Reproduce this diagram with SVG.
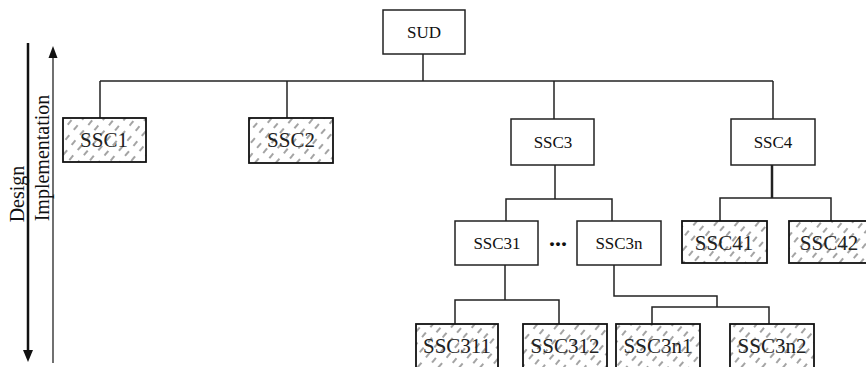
<svg xmlns="http://www.w3.org/2000/svg" width="866" height="367" viewBox="0 0 866 367">
<style>
.box{fill:#fff;stroke:#222;stroke-width:1.5}
.hbox{fill:url(#hatch);stroke:#111;stroke-width:1.8}
.lbl{font-family:"Liberation Serif","Times New Roman",serif;font-size:17px;fill:#111;text-anchor:middle}
.hlbl{font-family:"Liberation Serif","Times New Roman",serif;font-size:21px;fill:#222;text-anchor:middle}
.ax{font-family:"Liberation Serif","Times New Roman",serif;font-size:20px;fill:#111;text-anchor:middle}
#connectors line,#connectors polyline{stroke:#222;stroke-width:1.5;fill:none}
</style>
<defs>
<pattern id="hatch" patternUnits="userSpaceOnUse" width="13" height="8" patternTransform="rotate(-50)">
<rect width="13" height="8" fill="#fff"/>
<line x1="0" y1="4" x2="6" y2="4" stroke="#333" stroke-width="0.9"/>
</pattern>
</defs>
<rect width="866" height="367" fill="#fff"/>
<g id="axes">
<line x1="28" y1="43" x2="28" y2="352" stroke="#111" stroke-width="2.5"/>
<polygon points="23,350 33,350 28,362" fill="#111"/>
<line x1="53" y1="363" x2="53" y2="56" stroke="#111" stroke-width="1.2"/>
<polygon points="48.5,58 57.5,58 53,46" fill="#111"/>
<text class="ax" transform="translate(24,194) rotate(-90)">Design</text>
<text class="ax" transform="translate(49,158) rotate(-90)">Implementation</text>
</g>
<g id="connectors">
<line x1="423" y1="54" x2="423" y2="81"/>
<line x1="100" y1="81" x2="773" y2="81"/>
<line x1="100" y1="81" x2="100" y2="118"/>
<line x1="287" y1="81" x2="287" y2="118"/>
<line x1="554" y1="81" x2="554" y2="119"/>
<line x1="773" y1="81" x2="773" y2="119"/>
<line x1="555" y1="165" x2="555" y2="199"/>
<polyline points="506,221 506,199 612,199 612,221"/>
<line x1="772" y1="165" x2="772" y2="198" style="stroke-width:2.5"/>
<polyline points="720,221 720,198 831,198 831,221"/>
<line x1="505" y1="265" x2="505" y2="300"/>
<polyline points="455,324 455,300 559,300 559,324"/>
<polyline points="614,265 614,296 717,296 717,307"/>
<polyline points="652,324 652,307 769,307 769,324"/>
</g>
<g id="SUD"><rect class="box" x="383" y="10" width="82" height="44"/><text class="lbl" x="424" y="38">SUD</text></g>
<g id="SSC1"><rect class="hbox" x="63" y="118" width="83" height="44"/><text class="hlbl" x="104" y="147">SSC1</text></g>
<g id="SSC2"><rect class="hbox" x="249" y="118" width="84" height="45"/><text class="hlbl" x="291" y="147">SSC2</text></g>
<g id="SSC3"><rect class="box" x="511" y="119" width="83" height="46"/><text class="lbl" x="553" y="148">SSC3</text></g>
<g id="SSC4"><rect class="box" x="731" y="119" width="84" height="46"/><text class="lbl" x="773" y="148">SSC4</text></g>
<g id="SSC31"><rect class="box" x="455" y="221" width="83" height="44"/><text class="lbl" x="497" y="249">SSC31</text></g>
<g id="dots"><text x="558" y="246" style="font-family:'Liberation Serif',serif;font-size:24px;font-weight:bold;text-anchor:middle;fill:#111">...</text></g>
<g id="SSC3n"><rect class="box" x="577" y="221" width="84" height="44"/><text class="lbl" x="619" y="249">SSC3n</text></g>
<g id="SSC41"><rect class="hbox" x="682" y="221" width="85" height="42"/><text class="hlbl" x="724" y="250">SSC41</text></g>
<g id="SSC42"><rect class="hbox" x="789" y="221" width="84" height="42"/><text class="hlbl" x="829" y="250">SSC42</text></g>
<g id="SSC311"><rect class="hbox" x="416" y="324" width="82" height="48"/><text class="hlbl" x="457" y="353">SSC311</text></g>
<g id="SSC312"><rect class="hbox" x="523" y="324" width="84" height="48"/><text class="hlbl" x="565" y="353">SSC312</text></g>
<g id="SSC3n1"><rect class="hbox" x="616" y="324" width="84" height="48"/><text class="hlbl" x="658" y="353">SSC3n1</text></g>
<g id="SSC3n2"><rect class="hbox" x="730" y="324" width="84" height="48"/><text class="hlbl" x="772" y="353">SSC3n2</text></g>
</svg>
